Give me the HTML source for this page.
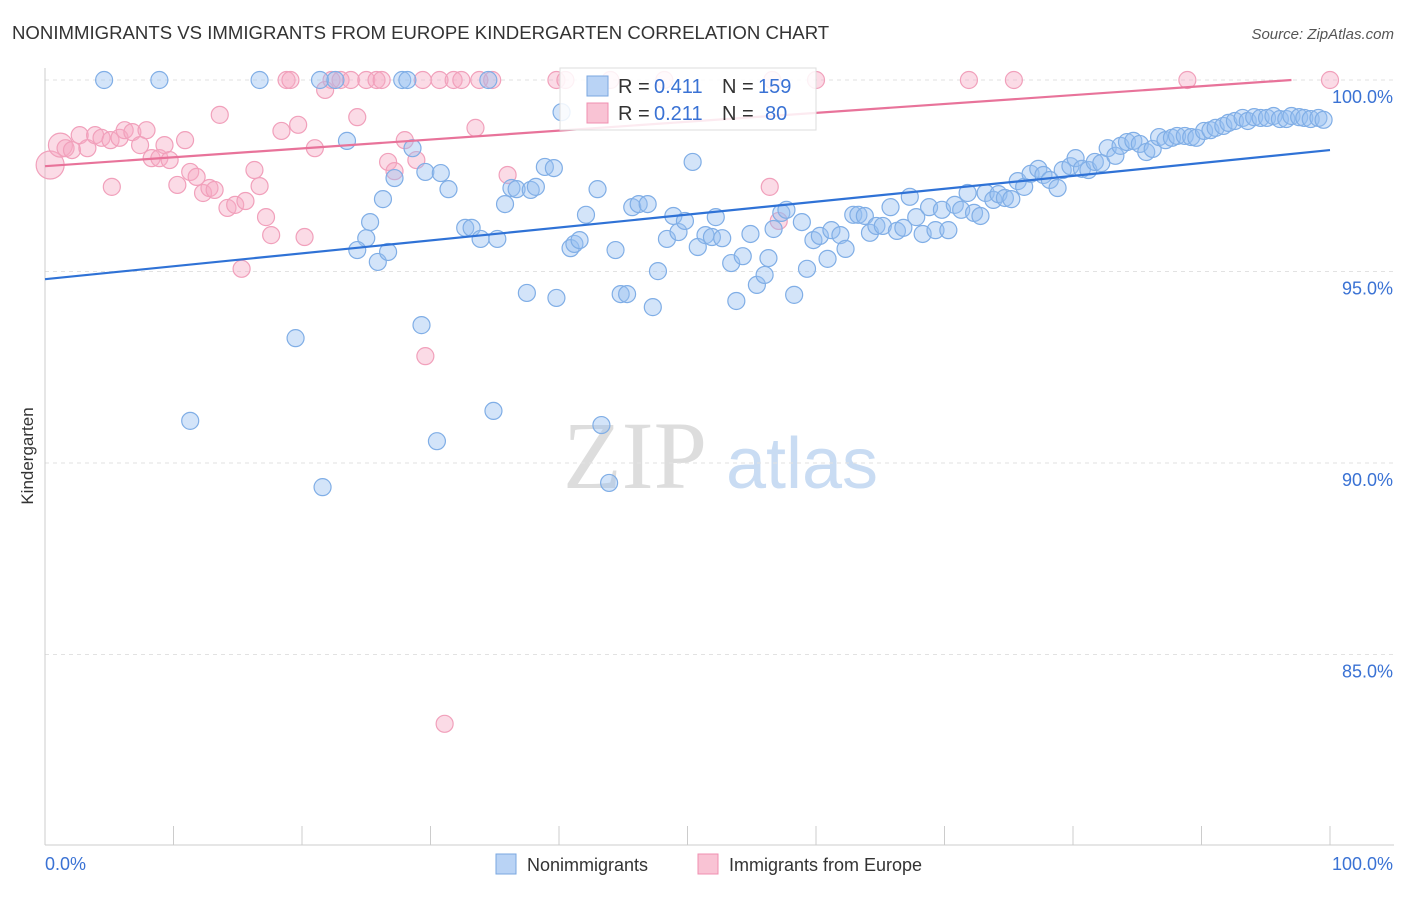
<!DOCTYPE html>
<html><head><meta charset="utf-8"><style>
body{margin:0;background:#fff;font-family:"Liberation Sans",sans-serif;}
svg text{font-family:"Liberation Sans",sans-serif;}
</style></head><body>
<svg id="chart" width="1406" height="892" viewBox="0 0 1406 892" xmlns="http://www.w3.org/2000/svg">
<text x="12" y="39" font-size="18.6" fill="#333">NONIMMIGRANTS VS IMMIGRANTS FROM EUROPE KINDERGARTEN CORRELATION CHART</text>
<text x="1394" y="39" font-size="15" fill="#555" text-anchor="end" font-style="italic">Source: ZipAtlas.com</text>
<g>
<text x="635" y="488" font-size="96" fill="#ddd" text-anchor="middle" font-family="Liberation Serif" style="font-family:'Liberation Serif',serif">ZIP</text>
<text x="802" y="488" font-size="72" fill="#c9dcf3" text-anchor="middle">atlas</text>
</g>
<g id="grid"></g>
<g id="axes"></g>
<g id="pink"></g>
<g id="blue"></g>
<g id="lines"></g>
<g>
<rect x="560" y="68" width="256" height="62" fill="#fff" fill-opacity="0.85" stroke="#ddd"/>
<rect x="587" y="76" width="21" height="20" fill="#b9d3f5" stroke="#7aa7e0"/>
<rect x="587" y="103" width="21" height="20" fill="#f9c3d4" stroke="#f08fb0"/>
<g font-size="20" fill="#333">
<text x="618" y="93">R =</text><text x="654" y="93" fill="#3a72d4">0.411</text><text x="722" y="93">N =</text><text x="758" y="93" fill="#3a72d4">159</text>
<text x="618" y="120">R =</text><text x="654" y="120" fill="#3a72d4">0.211</text><text x="722" y="120">N =</text><text x="765" y="120" fill="#3a72d4">80</text>
</g>
</g>
<text transform="translate(33,456) rotate(-90)" font-size="17" fill="#333" text-anchor="middle">Kindergarten</text>
<g>
<rect x="496" y="854" width="20" height="20" fill="#b9d3f5" stroke="#7aa7e0"/>
<text x="527" y="871" font-size="18" fill="#333">Nonimmigrants</text>
<rect x="698" y="854" width="20" height="20" fill="#f9c3d4" stroke="#f08fb0"/>
<text x="729" y="871" font-size="18" fill="#333">Immigrants from Europe</text>
</g>
</svg>
<script>
const yTicks=[100,95,90,85];
const yTickLabels=["100.0%","95.0%","90.0%","85.0%"];
const xTicks=[0,10,20,30,40,50,60,70,80,90,100];
const blueX=[4.6,8.9,16.7,21.4,22.6,27.8,28.2,34.5,40.2,23.5,11.3,19.5,21.6,30.5,34.9,43.3,43.9,29.3,26.3,25.3,25.0,24.3,25.9,26.7,27.2,28.6,29.6,30.8,31.4,32.7,33.2,33.9,35.2,35.8,36.3,36.7,37.8,38.2,38.9,39.6,37.5,39.8,40.9,41.2,41.6,42.1,43.0,44.4,44.8,45.3,47.3,47.7,45.7,46.2,46.9,48.4,48.9,49.3,49.8,50.4,50.8,51.4,51.9,52.2,52.7,53.4,53.8,54.3,54.9,55.4,56.0,56.3,56.7,57.3,57.7,58.3,58.9,59.3,59.8,60.3,60.9,61.2,61.9,62.3,62.9,63.3,63.8,64.2,64.7,65.2,65.8,66.3,66.8,67.3,67.8,68.3,68.8,69.3,69.8,70.3,70.8,71.3,71.8,72.3,72.8,73.2,73.8,74.2,74.7,75.2,75.7,76.2,76.7,77.3,77.7,78.2,78.8,79.2,79.8,80.2,80.7,81.2,81.7,82.2,82.7,83.3,83.7,84.2,84.7,85.2,85.7,86.2,86.7,87.2,87.7,88.1,88.7,89.2,89.6,90.2,90.7,91.1,91.7,92.1,92.6,93.2,93.6,94.1,94.6,95.1,95.6,96.1,96.6,97.0,97.6,98.0,98.5,99.1,99.5];
const blueY=[100,100,100,100,100,100,100,100,99.16,98.41,91.10,93.26,89.37,90.57,91.36,90.99,89.48,93.60,96.89,96.29,95.87,95.56,95.25,95.51,97.44,98.22,97.60,97.57,97.15,96.14,96.14,95.85,95.85,96.76,97.18,97.15,97.13,97.21,97.73,97.70,94.44,94.31,95.61,95.72,95.82,96.48,97.15,95.56,94.41,94.41,94.07,95.01,96.68,96.76,96.76,95.85,96.45,96.03,96.32,97.86,95.64,95.95,95.90,96.42,95.87,95.22,94.23,95.40,95.98,94.65,94.91,95.35,96.11,96.53,96.61,94.39,96.29,95.07,95.82,95.93,95.33,96.08,95.95,95.59,96.48,96.48,96.45,96.01,96.19,96.19,96.68,96.06,96.14,96.95,96.42,95.98,96.68,96.08,96.61,96.08,96.74,96.61,97.05,96.53,96.45,97.05,96.87,97.02,96.92,96.89,97.36,97.21,97.55,97.68,97.52,97.39,97.18,97.65,97.75,97.96,97.68,97.65,97.86,97.83,98.22,98.02,98.28,98.38,98.41,98.33,98.12,98.20,98.51,98.43,98.49,98.54,98.54,98.51,98.49,98.67,98.69,98.75,98.80,98.88,98.93,99.01,98.93,99.03,99.01,99.01,99.06,98.98,98.98,99.06,99.03,99.01,98.98,99.01,98.96];
const pinkX=[0.4,1.2,1.6,2.1,2.7,3.3,3.9,4.4,5.1,5.2,5.8,6.2,6.8,7.4,7.9,8.3,8.9,9.3,9.7,10.3,10.9,11.3,11.8,12.3,12.8,13.2,13.6,14.2,14.8,15.3,15.6,16.3,16.7,17.2,17.6,18.4,18.8,19.1,19.7,20.2,21.0,21.8,22.3,23.0,24.3,25.0,25.8,26.2,26.7,27.2,28.0,28.9,29.6,31.1,29.4,30.7,31.8,32.4,33.5,33.8,34.8,36.0,39.8,40.5,44.0,48.2,56.6,60.0,71.9,75.4,88.9,100,56.4,57.1,23.8];
const pinkY=[97.78,98.30,98.22,98.17,98.56,98.22,98.56,98.49,98.43,97.21,98.49,98.69,98.64,98.30,98.69,97.96,97.96,98.30,97.91,97.26,98.43,97.60,97.47,97.05,97.18,97.13,99.09,96.66,96.74,95.07,96.84,97.65,97.23,96.42,95.95,98.67,100,100,98.83,95.90,98.22,99.74,100,100,99.03,100,100,100,97.86,97.62,98.43,97.91,92.79,83.19,100,100,100,100,98.75,100,100,97.52,100,100,100,100,100,100,100,100,100,100,97.21,96.32,100];
const pinkR=[14,12];
const blueTrendX=[0,100], blueTrendY=[94.80,98.17];
const pinkTrendX=[0,97], pinkTrendY=[97.75,100.0];

const NS="http://www.w3.org/2000/svg";
const sx=v=>45+v*12.85;
const sy=v=>80+(100-v)*38.3;
function mk(tag,attrs,parent){const e=document.createElementNS(NS,tag);for(const k in attrs)e.setAttribute(k,attrs[k]);parent.appendChild(e);return e;}
const grid=document.getElementById('grid'),axes=document.getElementById('axes');
yTicks.forEach((t,i)=>{
 const l=mk('line',{x1:45,x2:1394,y1:sy(t),y2:sy(t),stroke:'#e2e2e2','stroke-dasharray':'4,4'},grid);
 
 
 const tx=mk('text',{x:1393,y:sy(t)+23,'font-size':18,fill:'#3a72d4','text-anchor':'end'},axes);
 tx.textContent=yTickLabels[i];
 
 
});
const ya=mk('line',{x1:45,x2:45,y1:68,y2:845,stroke:'#ccc'},axes);


const xa=mk('line',{x1:45,x2:1394,y1:845,y2:845,stroke:'#ccc'},axes);


xTicks.forEach(t=>{
 const l=mk('line',{x1:sx(t),x2:sx(t),y1:826,y2:845,stroke:'#ccc'},axes);
 
 
});
[[0,'0.0%','start',45],[100,'100.0%','end',1393]].forEach(a=>{
 const tx=mk('text',{x:a[3],y:870,'font-size':18,fill:'#3a72d4','text-anchor':a[2]},axes);
 tx.textContent=a[1];
 
 
});
const pg=document.getElementById('pink');
pinkX.forEach((x,i)=>{
 const c=mk('circle',{cx:sx(x),cy:sy(pinkY[i]),r:pinkR[i]||8.5,fill:'rgba(246,170,196,0.42)',stroke:'#f1a0bb','stroke-width':1.2},pg);
 
 
});
const bg=document.getElementById('blue');
blueX.forEach((x,i)=>{
 const c=mk('circle',{cx:sx(x),cy:sy(blueY[i]),r:8.5,fill:'rgba(150,190,240,0.42)',stroke:'#80aee6','stroke-width':1.2},bg);
 
 
});
const lg=document.getElementById('lines');
const bl=mk('line',{x1:sx(blueTrendX[0]),y1:sy(blueTrendY[0]),x2:sx(blueTrendX[1]),y2:sy(blueTrendY[1]),stroke:'#2f72d6','stroke-width':2.2},lg);


const pl=mk('line',{x1:sx(pinkTrendX[0]),y1:sy(pinkTrendY[0]),x2:sx(pinkTrendX[1]),y2:sy(pinkTrendY[1]),stroke:'#e8739a','stroke-width':2.2},lg);


</script>
</body></html>
